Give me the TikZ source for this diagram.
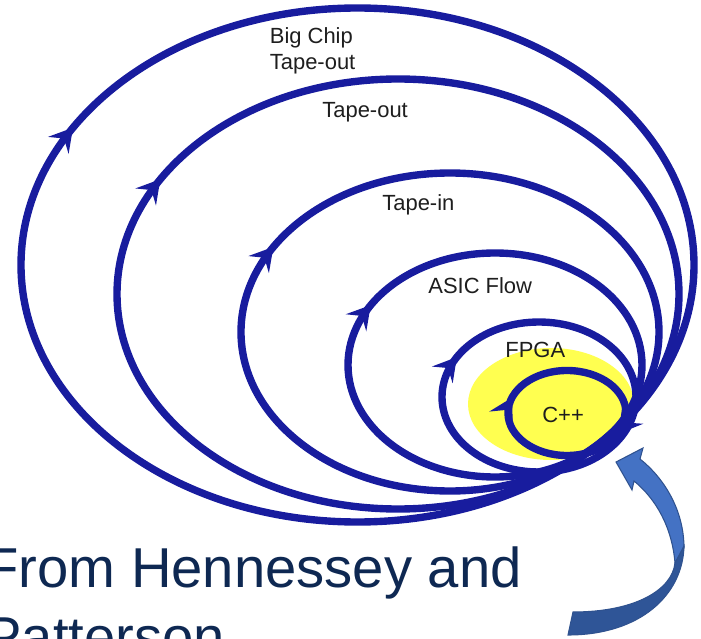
\documentclass[tikz,border=0pt]{standalone}
\usepackage{fontspec}
\setmainfont{Liberation Sans}
\usetikzlibrary{arrows.meta,decorations.markings}

\definecolor{ringblue}{RGB}{24,28,158}
\definecolor{glowyellow}{RGB}{255,255,80}
\definecolor{labelgray}{RGB}{30,30,30}
\definecolor{creditnavy}{RGB}{14,40,82}
\definecolor{bendlight}{RGB}{68,114,196}
\definecolor{benddark}{RGB}{47,85,151}
\definecolor{bendedge}{RGB}{47,82,143}

\def\bigchipring{(357.5,265) ellipse (336.5 and 257)}
\def\tapeoutring{(398,294) ellipse (281 and 215)}
\def\tapeinring{(450,332) ellipse (209 and 159)}
\def\asicring{(495,365) ellipse (147 and 112)}
\def\fpgaring{(539,397) ellipse (97 and 75)}
\def\cppring{(567,413) ellipse (59 and 42.5)}
\def\glowspot{(551,404) ellipse (83 and 56)}

\tikzset{
  >={Stealth[length=13pt,width=15pt,inset=5pt]},
  ringline/.style={draw=ringblue, line width=4.2pt},
  ring/.style={ringline, postaction={decorate},
    decoration={markings, mark=at position #1 with {\arrow{>}}}},
  ringlabel/.style={anchor=base west, inner sep=0pt, text=labelgray,
    font=\fontsize{12.5}{14.8}\selectfont},
}

\begin{document}
\begin{tikzpicture}[x=0.02cm, y=-0.02cm]
  \useasboundingbox (0,0) rectangle (701,639);
  \clip (0,0) rectangle (701,639);

  % yellow spot behind the inner loop
  \fill[glowyellow] \glowspot;

  \draw[ring=0.58] \bigchipring;
  \draw[ring=0.58] \tapeoutring;
  \draw[ring=0.58] \tapeinring;
  \draw[ring=0.58] \asicring;
  \draw[ring=0.58] \fpgaring;
  \draw[ringline, postaction={decorate},
    decoration={markings, mark=at position 0.07 with {\arrow{>}},
                          mark=at position 0.55 with {\arrow{>}}}] \cppring;

  \node[ringlabel, anchor=north west, align=left] (bigchiplbl) at (269.5,27) {Big Chip\\Tape-out};
  \node[ringlabel] (tapeoutlbl) at (322,117) {Tape-out};
  \node[ringlabel] (tapeinlbl) at (382,210) {Tape-in};
  \node[ringlabel] (asiclbl) at (428,293) {ASIC Flow};
  \node[ringlabel] (fpgalbl) at (505,357) {FPGA};
  \node[ringlabel] (cpplbl) at (542,422) {C++};

  % curved arrow pointing at the meeting point
  \filldraw[fill=bendlight, draw=bendedge, line width=0.6pt]
    (640,459) .. controls (664,478) and (684,510) .. (684,548)
    -- (675,563) .. controls (672,527) and (656,499) .. (634,481)
    -- (632,490) -- (616,462) -- (643,448) -- cycle;
  \filldraw[fill=benddark, draw=bendedge, line width=0.6pt]
    (684,546) .. controls (683,595) and (640,635) .. (568,635)
    -- (573,612) .. controls (635,612) and (672,590) .. (675,563) -- cycle;

  \node[anchor=north west, inner sep=0pt, align=left, text=creditnavy,
    font=\fontsize{32}{39.7}\selectfont] (credit) at (-16,546) {From Hennessey and\\Patterson};
\end{tikzpicture}
\end{document}
